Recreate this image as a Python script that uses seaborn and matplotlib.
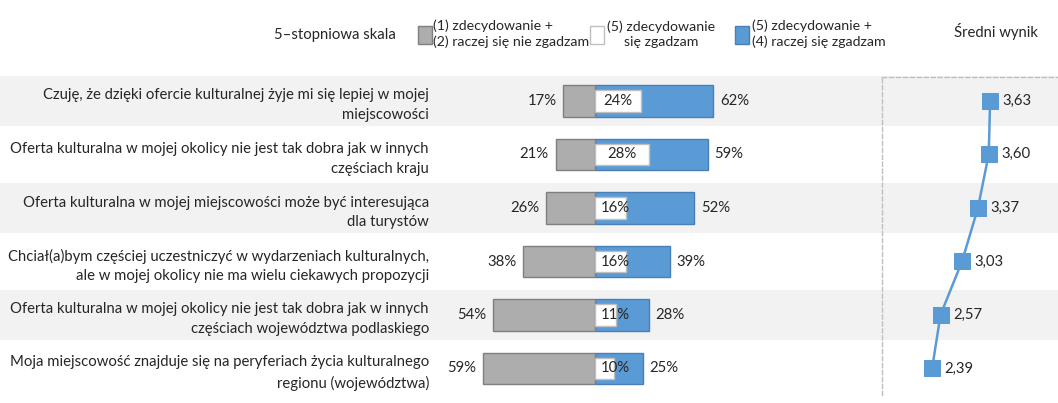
import seaborn as sns
import matplotlib.pyplot as plt
import pandas as pd
from matplotlib.patches import Rectangle

statements = [
    "Czuję, że dzięki ofercie kulturalnej żyje mi się lepiej w mojej\nmiejscowości",
    "Oferta kulturalna w mojej okolicy nie jest tak dobra jak w innych\nczęściach kraju",
    "Oferta kulturalna w mojej miejscowości może być interesująca\ndla turystów",
    "Chciał(a)bym częściej uczestniczyć w wydarzeniach kulturalnych,\nale w mojej okolicy nie ma wielu ciekawych propozycji",
    "Oferta kulturalna w mojej okolicy nie jest tak dobra jak w innych\nczęściach województwa podlaskiego",
    "Moja miejscowość znajduje się na peryferiach życia kulturalnego\nregionu (województwa)",
]
disagree = [17, 21, 26, 38, 54, 59]
neutral = [24, 28, 16, 16, 11, 10]
agree = [62, 59, 52, 39, 28, 25]
mean_score = [3.63, 3.60, 3.37, 3.03, 2.57, 2.39]

legend_labels = ["(1) zdecydowanie +\n(2) raczej się nie zgadzam",
                 "(5) zdecydowanie\nsię zgadzam",
                 "(5) zdecydowanie +\n(4) raczej się zgadzam"]

GREY = "#adadad"
BLUE = "#5b9bd5"
BAND = "#f2f2f2"

df = pd.DataFrame({"statement": statements, "disagree": disagree,
                   "neutral": neutral, "agree": agree, "mean": mean_score})
df["neg"] = -df["disagree"]
df["pos"] = range(len(df))

sns.set_theme(style="white")
plt.rcParams["font.family"] = ["Lato", "DejaVu Sans"]
plt.rcParams["text.color"] = "#262626"

W, H = 1058, 403
fig = plt.figure(figsize=(W / 100, H / 100), dpi=100)

y_bot = 1 - 395.25 / H
y_h = (395.25 - 74.25) / H

# background bands
bg = fig.add_axes([0, y_bot, 1, y_h], zorder=0)
bg.set_xlim(0, 1)
bg.set_ylim(5.5, -0.5)
for i in range(0, len(df), 2):
    bg.axhspan(i - 0.46, i + 0.46, color=BAND, lw=0)
bg.axis("off")

# diverging bars
ax = fig.add_axes([440 / W, y_bot, 440 / W, y_h], zorder=1)
ax.patch.set_alpha(0)
sns.barplot(data=df, x="agree", y="statement", orient="h", color=BLUE,
            width=0.58, edgecolor="#4a7fb5", linewidth=1, saturation=1, ax=ax)
sns.barplot(data=df, x="neg", y="statement", orient="h", color=GREY,
            width=0.58, edgecolor="#7f7f7f", linewidth=1, saturation=1, ax=ax)
sns.barplot(data=df, x="neutral", y="statement", orient="h", color="white",
            width=0.40, edgecolor="#bfbfbf", linewidth=1, saturation=1, ax=ax)
ax.set_xlim(-81.8, 149.7)
ax.set_ylim(5.5, -0.5)
ax.set_xlabel("")
ax.set_ylabel("")
ax.set_xticks([])
ax.tick_params(axis="y", length=0, pad=8, labelsize=10.7)
for lab in ax.get_yticklabels():
    lab.set_linespacing(1.5)
for s in ax.spines.values():
    s.set_visible(False)

for i, row in df.iterrows():
    ax.text(-row["disagree"] - 3.5, i, f"{row['disagree']}%", ha="right",
            va="center", fontsize=10.7)
    ax.text(row["agree"] + 3.5, i, f"{row['agree']}%", ha="left",
            va="center", fontsize=10.7)
    ax.text(max(row["neutral"] / 2, 10.5), i, f"{row['neutral']}%",
            ha="center", va="center", fontsize=10.7)

# mean score panel
ax2 = fig.add_axes([882 / W, y_bot, 176 / W, (395.25 - 77) / H], zorder=1)
ax2.patch.set_alpha(0)
sns.lineplot(data=df, x="mean", y="pos", sort=False, orient="y",
             estimator=None, color=BLUE, marker="s", markersize=11,
             markeredgecolor=BLUE, linewidth=1.8, ax=ax2)
ax2.set_xlim(1.32, 5.08)
ax2.set_ylim(5.5, -0.5 + 3 / 53.5)
ax2.set_xticks([])
ax2.set_yticks([])
ax2.set_xlabel("")
ax2.set_ylabel("")
for side in ["right", "bottom"]:
    ax2.spines[side].set_visible(False)
for side in ["left", "top"]:
    ax2.spines[side].set_color("#bfbfbf")
    ax2.spines[side].set_linestyle((0, (3, 2)))
    ax2.spines[side].set_linewidth(1)
for i, row in df.iterrows():
    ax2.text(row["mean"] + 0.27, i, f"{row['mean']:.2f}".replace(".", ","),
             ha="left", va="center", fontsize=10.7)

# header / legend
fig.text(335 / W, 1 - 35 / H, "5–stopniowa skala", ha="center", va="center",
         fontsize=10.7)
fig.text(996 / W, 1 - 32 / H, "Średni wynik", ha="center", va="center",
         fontsize=10.7)
swatches = [(418, GREY, "#7f7f7f"), (590, "white", "#bfbfbf"), (735, BLUE, "#4a7fb5")]
for (x0, fc, ec), lab, tx, ma in zip(swatches, legend_labels,
                                     [433, 607, 752], ["left", "center", "left"]):
    fig.patches.append(Rectangle((x0 / W, 1 - 44 / H), 14 / W, 18 / H,
                                 transform=fig.transFigure, facecolor=fc,
                                 edgecolor=ec, lw=1))
    fig.text(tx / W, 1 - 34 / H, lab, ha="left", va="center", fontsize=10.2,
             multialignment=ma, linespacing=1.3)

fig.savefig("out.png", dpi=100)
